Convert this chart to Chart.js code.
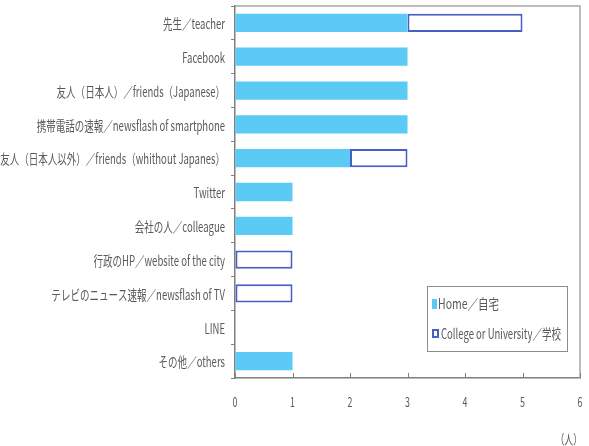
<!DOCTYPE html>
<html><head><meta charset="utf-8">
<script src="https://cdn.jsdelivr.net/npm/chart.js@4/dist/chart.umd.min.js"></script>
<style>
html,body{margin:0;padding:0;background:#fff;}
</style></head>
<body><canvas id="c" width="589" height="446"></canvas>
<script>
const categories = ['先生／teacher','Facebook','友人（日本人）／friends（Japanese）','携帯電話の速報／newsflash of smartphone','友人（日本人以外）／friends（whithout Japanes）','Twitter','会社の人／colleague','行政のHP／website of the city','テレビのニュース速報／newsflash of TV','LINE','その他／others'];
const homeValues = [3,3,3,3,2,1,1,0,0,0,1];
const collegeValues = [2,0,0,0,1,0,0,1,1,0,0];
const seriesNames = ['Home／自宅','College or University／学校'];
const xTicks = [0,1,2,3,4,5,6];
const axisUnit = '（人）';

const FONT = "'Noto Sans CJK JP','Noto Sans',sans-serif";
const TEXT = '#595959';
const HOME_COLOR = '#5bcbf5';
const COLLEGE_BORDER = '#4a5fc4';
const SQUEEZE = 0.68;

function squeezedText(ctx, text, x, y, align, size, sx){
  ctx.save();
  ctx.font = size + 'px ' + FONT;
  ctx.fillStyle = TEXT;
  ctx.textAlign = align; ctx.textBaseline = 'middle';
  ctx.translate(x, y); ctx.scale(sx || SQUEEZE, 1);
  ctx.fillText(text, 0, 0);
  ctx.restore();
}

const framePlugin = {
  id:'frame',
  afterDraw(chart){
    const {ctx, chartArea:a, scales} = chart;
    ctx.save();
    // frame top/right
    ctx.strokeStyle = '#a6a6a6'; ctx.lineWidth = 1.5;
    ctx.beginPath();
    ctx.moveTo(a.left, a.top); ctx.lineTo(a.right, a.top); ctx.lineTo(a.right, a.bottom);
    ctx.stroke();
    // inward x ticks
    ctx.strokeStyle = '#7f7f7f'; ctx.lineWidth = 1;
    ctx.beginPath();
    xTicks.forEach(v=>{const x=Math.round(scales.x.getPixelForValue(v))+0.5; ctx.moveTo(x,a.bottom); ctx.lineTo(x,a.bottom-5);});
    ctx.stroke();
    ctx.restore();
    // y labels
    const ys = scales.y;
    ys.ticks.forEach((t,i)=>{
      squeezedText(ctx, ys.getLabelForValue(t.value), a.left-10, ys.getPixelForTick(i)+1, 'right', 14);
    });
    // x labels
    xTicks.forEach(v=>{
      squeezedText(ctx, String(v), scales.x.getPixelForValue(v), a.bottom+24, 'center', 13);
    });
    squeezedText(ctx, axisUnit, a.right+2, a.bottom+61, 'right', 13);
    // legend
    const lx = 427, ly = 286, lw = 140, lh = 65;
    ctx.save();
    ctx.fillStyle = '#fff'; ctx.fillRect(lx, ly, lw, lh);
    ctx.strokeStyle = '#8c8c8c'; ctx.lineWidth = 1;
    ctx.strokeRect(lx+0.5, ly+0.5, lw, lh);
    ctx.fillStyle = HOME_COLOR; ctx.fillRect(lx+5, ly+13, 5, 10);
    ctx.fillStyle = '#fff'; ctx.fillRect(lx+5, ly+43, 6, 9);
    ctx.strokeStyle = COLLEGE_BORDER; ctx.lineWidth = 2;
    ctx.strokeRect(lx+6, ly+44, 5, 7);
    ctx.restore();
    squeezedText(ctx, seriesNames[0], lx+11, ly+18, 'left', 14, 0.75);
    squeezedText(ctx, seriesNames[1], lx+14, ly+48, 'left', 14, 0.68);
  }
};

new Chart(document.getElementById('c'), {
  type:'bar',
  data:{labels:categories, datasets:[
    {label:seriesNames[0], data:homeValues, backgroundColor:HOME_COLOR, borderWidth:0, barPercentage:0.54, categoryPercentage:1},
    {label:seriesNames[1], data:collegeValues, backgroundColor:'#ffffff', borderColor:COLLEGE_BORDER, borderWidth:2, borderSkipped:false, barPercentage:0.54, categoryPercentage:1}
  ]},
  options:{
    indexAxis:'y', responsive:false, animation:false,
    layout:{padding:{top:6,right:9,bottom:0,left:0}},
    plugins:{legend:{display:false}, tooltip:{enabled:false}},
    scales:{
      x:{stacked:true, min:0, max:6,
        afterBuildTicks(s){ s.ticks = xTicks.map(v=>({value:v})); },
        afterFit(s){ s.height = 68; },
        grid:{drawOnChartArea:false, drawTicks:false},
        border:{color:'#7f7f7f', width:1.5},
        ticks:{display:false}
      },
      y:{stacked:true,
        afterFit(s){ s.width = 235; },
        grid:{drawOnChartArea:false, drawTicks:true, tickLength:4, offset:true, color:'#7f7f7f'},
        border:{color:'#7f7f7f', width:1.5},
        ticks:{display:false}
      }
    }
  },
  plugins:[framePlugin]
});
</script></body></html>
